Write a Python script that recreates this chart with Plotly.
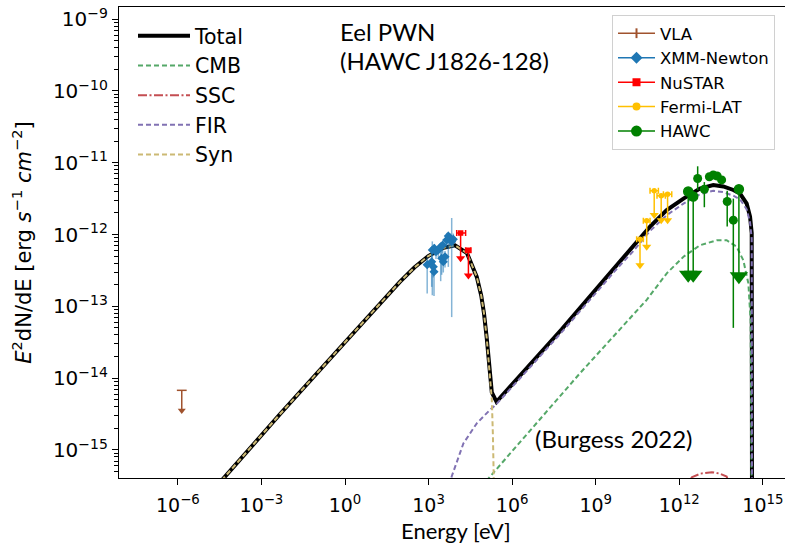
import numpy as np
import plotly.graph_objects as go

# ---------------- model curves: log10(E/eV), log10(E^2 dN/dE / erg s^-1 cm^-2)
tot_logE = [-4.62, -4.35, -2.33, 0.0, 1.0, 1.97, 2.49, 2.99, 3.49, 3.95, 4.38, 4.73, 4.89, 4.99, 5.09, 5.19,
            5.27, 5.44, 6.5, 7.78, 9.15, 9.75, 10.35, 10.95, 11.55, 12.15, 12.74, 13.22, 13.58, 13.94,
            14.18, 14.42, 14.54, 14.60, 14.61]
tot_logF = [-15.51, -15.39, -14.50, -13.50, -13.07, -12.66, -12.46, -12.30, -12.19, -12.15, -12.26, -12.59,
            -12.85, -13.10, -13.45, -13.90, -14.20, -14.33, -13.88, -13.32, -12.70, -12.425, -12.17, -11.89,
            -11.66, -11.50, -11.36, -11.31, -11.33, -11.38, -11.43, -11.57, -11.75, -11.98, -15.6]

syn_logE = [-4.62, -4.35, -2.33, 0.0, 1.0, 1.97, 2.49, 2.99, 3.49, 3.95, 4.38, 4.73, 4.89, 4.99, 5.09, 5.19,
            5.27, 5.31, 5.34, 5.35]
syn_logF = [-15.51, -15.39, -14.50, -13.50, -13.07, -12.66, -12.46, -12.30, -12.19, -12.15, -12.26, -12.59,
            -12.85, -13.10, -13.45, -13.90, -14.30, -14.80, -15.39, -15.6]

fir_logE = [3.69, 3.83, 4.25, 4.73, 5.21, 5.44, 6.5, 7.78, 9.15, 9.75, 10.35, 10.95, 11.55, 12.15, 12.74,
            13.22, 13.58, 13.94, 14.18, 14.42, 14.54, 14.60, 14.61]
fir_logF = [-15.6, -15.37, -14.91, -14.63, -14.44, -14.36, -13.91, -13.36, -12.75, -12.48, -12.23, -11.95,
            -11.73, -11.57, -11.44, -11.39, -11.41, -11.46, -11.51, -11.65, -11.83, -12.06, -15.6]

cmb_logE = [4.70, 5.21, 8.44, 10.83, 11.55, 12.15, 12.74, 13.35, 13.70, 14.06, 14.30, 14.48, 14.56, 14.60]
cmb_logF = [-15.6, -15.37, -13.93, -12.91, -12.54, -12.31, -12.15, -12.08, -12.08, -12.17, -12.36, -12.68,
            -13.2, -15.6]

ssc_logE = [12.15, 12.45, 12.77, 13.17, 13.46, 13.70, 13.90]
ssc_logF = [-15.6, -15.38, -15.33, -15.31, -15.33, -15.37, -15.6]

# ---------------- data points
vla_logE = [-5.86]
vla_logF = [-14.17]
vla_arrow = [0.28]          # upper-limit arrow length (dex)

xmm_logE = [2.95, 3.134, 3.206, 3.267, 3.112, 3.170, 3.195, 3.349, 3.435, 3.507, 3.471, 3.529, 3.590, 3.651,
            3.709, 3.769, 3.830, 3.888]
xmm_logF = [-12.42, -12.216, -12.192, -12.240, -12.379, -12.448, -12.518, -12.216, -12.170, -12.146, -12.331,
            -12.379, -12.309, -12.077, -12.021, -12.053, -12.100, -12.067]
xmm_up = [0.10, 0.12, 0.06, 0.06, 0.12, 0.08, 0.16, 0.06, 0.05, 0.06, 0.11, 0.08, 0.08, 0.10, 0.06, 0.07,
          0.33, 0.08]
xmm_dn = [0.40, 0.63, 0.10, 0.10, 0.35, 0.15, 0.34, 0.10, 0.48, 0.12, 0.23, 0.15, 0.15, 0.12, 0.43, 0.12,
          1.05, 0.12]

nu_logE = [4.15, 4.43]
nu_lo = [4.01, 4.33]
nu_hi = [4.33, 4.52]
nu_logF = [-11.98, -12.22]
nu_arrow = [0.35, 0.35]

fermi_logE = [10.59, 10.83, 11.10, 11.35, 11.58]
fermi_lo = [10.47, 10.71, 10.95, 11.20, 11.43]
fermi_hi = [10.71, 10.95, 11.25, 11.50, 11.73]
fermi_logF = [-12.067, -11.81, -11.39, -11.46, -11.44]
fermi_arrow = [0.36, 0.36, 0.34, 0.34, 0.36]

hawc_logE = [12.66, 12.90, 13.08, 13.22, 13.36, 13.52, 13.72, 13.94]
hawc_logF = [-11.22, -11.37, -11.195, -11.17, -11.185, -11.24, -11.54, -11.80]
hawc_up = [0.17, 0.10, 0.05, 0.05, 0.05, 0.05, 0.15, 0.30]
hawc_dn = [0.16, 0.25, 0.05, 0.05, 0.05, 0.05, 0.35, 1.5]
hawc_ul_logE = [12.32, 12.50, 14.14]
hawc_ul_logF = [-11.40, -11.47, -11.37]
hawc_ul_arrow = [1.16, 1.09, 1.21]

ytick_exp = [-15, -14, -13, -12, -11, -10, -9]
xtick_exp = [-6, -3, 0, 3, 6, 9, 12, 15]

P = lambda a: 10 ** np.asarray(a, dtype=float)

fig = go.Figure()

# ---- models
models = [
    ("Total", tot_logE, tot_logF, "black", "solid", 4),
    ("CMB", cmb_logE, cmb_logF, "#55A868", "5px,3px", 2),
    ("SSC", ssc_logE, ssc_logF, "#C44E52", "9px,2.5px,2px,2.5px", 2),
    ("FIR", fir_logE, fir_logF, "#8172B3", "5px,3px", 2),
    ("Syn", syn_logE, syn_logF, "#CCB974", "5px,3px", 2),
]
for name, lx, ly, col, dash, w in models:
    fig.add_trace(go.Scatter(x=P(lx), y=P(ly), mode="lines", name=name,
                             line=dict(color=col, dash=dash, width=w), legend="legend"))


def ul_traces(lx, ly, arrow, col, sym, size, tri, lo=None, hi=None, capw=0):
    x = P(lx)
    y = P(ly)
    yl = P(np.asarray(ly) - np.asarray(arrow))
    ex = None
    if lo is not None:
        ex = dict(type="data", symmetric=False, array=P(hi) - x, arrayminus=x - P(lo),
                  color=col, thickness=1.5, width=capw)
    fig.add_trace(go.Scatter(x=x, y=y, mode="markers", showlegend=False,
                             marker=dict(symbol=sym, size=size, color=col, line=dict(color=col, width=1.5)),
                             error_x=ex,
                             error_y=dict(type="data", symmetric=False, array=[0] * len(x),
                                          arrayminus=y - yl, color=col, thickness=1.5, width=0)))
    fig.add_trace(go.Scatter(x=x, y=yl, mode="markers", showlegend=False,
                             marker=dict(symbol="triangle-down", size=tri, color=col)))


# VLA
ul_traces(vla_logE, vla_logF, vla_arrow, "#A0522D", "line-ew", 7, 7)
# XMM
fig.add_trace(go.Scatter(x=P(xmm_logE), y=P(xmm_logF), mode="markers", showlegend=False,
                         marker=dict(symbol="diamond", size=7, color="#1f77b4"),
                         error_y=dict(type="data", symmetric=False,
                                      array=P(np.add(xmm_logF, xmm_up)) - P(xmm_logF),
                                      arrayminus=P(xmm_logF) - P(np.subtract(xmm_logF, xmm_dn)),
                                      color="rgba(31,119,180,0.55)", thickness=1.5, width=0)))
# NuSTAR
ul_traces(nu_logE, nu_logF, nu_arrow, "#FF0000", "square", 4, 8, nu_lo, nu_hi, 3)
# Fermi
ul_traces(fermi_logE, fermi_logF, fermi_arrow, "#FFC000", "circle", 4, 8, fermi_lo, fermi_hi, 3)
# HAWC
fig.add_trace(go.Scatter(x=P(hawc_logE), y=P(hawc_logF), mode="markers", showlegend=False,
                         marker=dict(symbol="circle", size=9, color="green"),
                         error_y=dict(type="data", symmetric=False,
                                      array=P(np.add(hawc_logF, hawc_up)) - P(hawc_logF),
                                      arrayminus=P(hawc_logF) - P(np.subtract(hawc_logF, hawc_dn)),
                                      color="green", thickness=1.5, width=0)))
ul_traces(hawc_ul_logE, hawc_ul_logF, hawc_ul_arrow, "green", "circle", 9, 16)

# legend entries for data
for name, col, sym, size in [("VLA", "#A0522D", "line-ns-open", 7), ("XMM-Newton", "#1f77b4", "diamond", 7),
                             ("NuSTAR", "#FF0000", "square", 6), ("Fermi-LAT", "#FFC000", "circle", 6),
                             ("HAWC", "green", "circle", 9)]:
    fig.add_trace(go.Scatter(x=[None], y=[None], mode="lines+markers", name=name, legend="legend2",
                             line=dict(color=col, width=1.5),
                             marker=dict(symbol=sym, size=size, color=col, line=dict(color=col, width=2))))

# ---------- layout
L, R, T, B = 119, 0, 7, 65
W, H = 785, 543
pw, ph = W - L - R, H - T - B


def px2paper(xp, yp):
    return (xp - L) / pw, (H - B - yp) / ph


fig.update_layout(
    width=W, height=H, margin=dict(l=L, r=R, t=T, b=B, pad=0),
    paper_bgcolor="white", plot_bgcolor="white",
    xaxis=dict(type="log", range=[-8.113, 15.795], showgrid=False, zeroline=False,
               showline=True, linecolor="black", linewidth=1.2, mirror=True,
               ticks="outside", ticklen=6, tickwidth=1.2, tickcolor="black", ticklabelstandoff=4,
               tickmode="array", tickvals=P(xtick_exp),
               ticktext=["10<sup>%s</sup>" % str(e).replace("-", "−") for e in xtick_exp],
               tickfont=dict(family="DejaVu Sans", size=19, color="black")),
    yaxis=dict(type="log", range=[-15.391, -8.8315], showgrid=False, zeroline=False,
               showline=True, linecolor="black", linewidth=1.2, mirror=False,
               ticks="outside", ticklen=6, tickwidth=1.2, tickcolor="black",
               tickmode="array", tickvals=P(ytick_exp),
               ticktext=["10<sup>%s</sup>" % str(e).replace("-", "−") for e in ytick_exp],
               tickfont=dict(family="DejaVu Sans", size=20, color="black"),
               minor=dict(tickmode="array", ticks="outside", ticklen=3.5, tickwidth=0.8, tickcolor="black",
                          tickvals=[k * 10.0 ** d for d in range(-16, -8) for k in range(2, 10)]),
               title=dict(text="<i>E</i><sup>2</sup>dN/dE [erg <i>s</i><sup>−1</sup> <i>cm</i><sup>−2</sup>]",
                          font=dict(family="DejaVu Sans", size=21, color="black"), standoff=15)),
    legend=dict(x=px2paper(133, 0)[0], y=px2paper(0, 16)[1], xanchor="left", yanchor="top",
                bgcolor="rgba(0,0,0,0)", borderwidth=0, itemwidth=52,
                font=dict(family="DejaVu Sans", size=20.5, color="black"), tracegroupgap=0),
    legend2=dict(x=px2paper(612, 0)[0], y=px2paper(0, 15)[1], xanchor="left", yanchor="top",
                 bgcolor="white", bordercolor="#d0d0d0", borderwidth=1, itemwidth=37,
                 font=dict(family="DejaVu Sans", size=16.5, color="black"), tracegroupgap=0),
)

ann_font = dict(family="Lato", size=24, color="black")
for text, xp, yp in [("Eel PWN", 338, 32), ("(HAWC J1826-128)", 338, 61), ("(Burgess 2022)", 533, 438)]:
    ax, ay = px2paper(xp, yp)
    fig.add_annotation(x=ax, y=ay, xref="paper", yref="paper", text=text, showarrow=False,
                       xanchor="left", yanchor="middle", font=ann_font)
ax, ay = px2paper(456, 530)
fig.add_annotation(x=ax, y=ay, xref="paper", yref="paper", text="Energy [eV]", showarrow=False,
                   xanchor="center", yanchor="middle", font=dict(family="Lato", size=22, color="black"))

fig.write_html("out.html")
